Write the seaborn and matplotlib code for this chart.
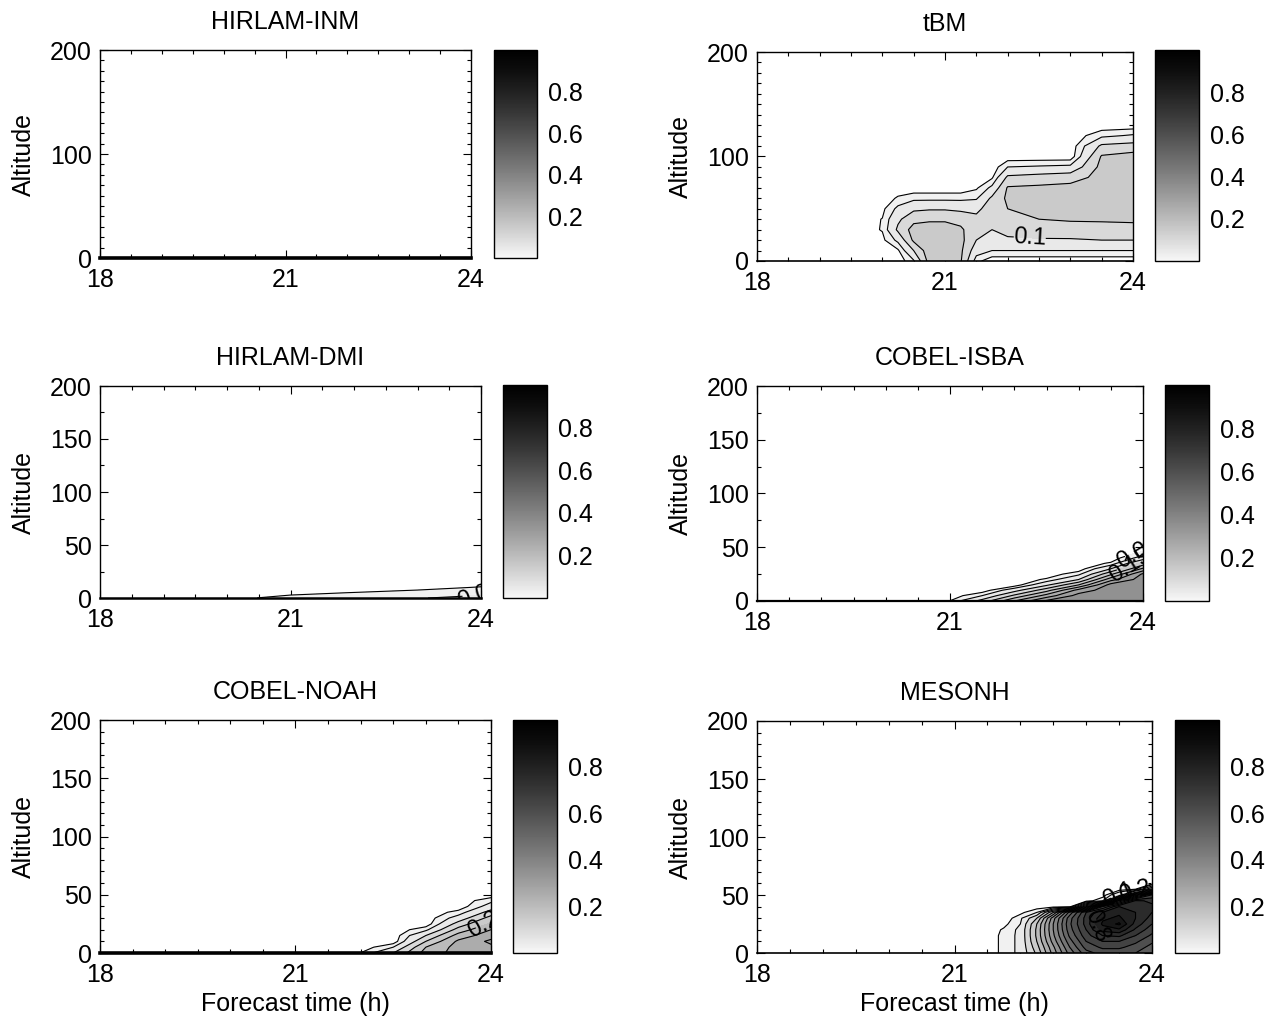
import numpy as np
import matplotlib
matplotlib.use("Agg")
import matplotlib.pyplot as plt
from matplotlib.colors import LinearSegmentedColormap, Normalize
from matplotlib.cm import ScalarMappable
from matplotlib.ticker import MultipleLocator
import seaborn as sns

# ---------------- data ----------------
titles = ["HIRLAM-INM", "tBM", "HIRLAM-DMI", "COBEL-ISBA", "COBEL-NOAH", "MESONH"]
y_label = "Altitude"
x_label = "Forecast time (h)"
x_ticks = [18, 21, 24]
cbar_ticks = [0.2, 0.4, 0.6, 0.8]
contour_levels = [0.02, 0.05, 0.10, 0.15, 0.20, 0.25, 0.30, 0.35, 0.40, 0.45,
                  0.50, 0.55, 0.60, 0.65, 0.70, 0.75, 0.80, 0.85, 0.90, 0.95]

# HIRLAM-INM: no fog anywhere
inm_time = [18, 24]
inm_alt = [0, 200]
inm_prob = [[0, 0],
            [0, 0]]

# tBM (rows = altitude, columns = forecast time)
tbm_time = [19.5, 20, 20.25, 20.5, 20.75, 21, 21.25, 21.5, 21.75, 22, 22.5, 23, 23.5, 24]
tbm_alt = [0, 10, 20, 30, 40, 50, 60, 70, 80, 90, 100, 110, 120, 130, 140]
tbm_prob = [
    [0, 0,     0,     0.045, 0.17,  0.18,  0.155, 0.03,  0,     0,     0,     0,     0,     0],
    [0, 0,     0.015, 0.10,  0.18,  0.19,  0.16,  0.07,  0.05,  0.05,  0.05,  0.05,  0.05,  0.05],
    [0, 0.012, 0.06,  0.16,  0.18,  0.19,  0.165, 0.10,  0.09,  0.09,  0.095, 0.095, 0.10,  0.10],
    [0, 0.022, 0.11,  0.17,  0.18,  0.18,  0.16,  0.11,  0.10,  0.12,  0.125, 0.13,  0.135, 0.14],
    [0, 0.021, 0.09,  0.135, 0.14,  0.14,  0.13,  0.11,  0.11,  0.14,  0.15,  0.155, 0.155, 0.155],
    [0, 0.012, 0.06,  0.09,  0.095, 0.095, 0.09,  0.09,  0.12,  0.15,  0.16,  0.165, 0.165, 0.165],
    [0, 0,     0.025, 0.04,  0.04,  0.04,  0.04,  0.045, 0.11,  0.16,  0.165, 0.17,  0.17,  0.17],
    [0, 0,     0,     0,     0,     0,     0,     0.015, 0.06,  0.155, 0.16,  0.165, 0.17,  0.17],
    [0, 0,     0,     0,     0,     0,     0,     0,     0.015, 0.11,  0.12,  0.13,  0.165, 0.17],
    [0, 0,     0,     0,     0,     0,     0,     0,     0,     0.05,  0.055, 0.06,  0.165, 0.17],
    [0, 0,     0,     0,     0,     0,     0,     0,     0,     0,     0,     0,     0.155, 0.17],
    [0, 0,     0,     0,     0,     0,     0,     0,     0,     0,     0,     0,     0.11,  0.12],
    [0, 0,     0,     0,     0,     0,     0,     0,     0,     0,     0,     0,     0.04,  0.055],
    [0, 0,     0,     0,     0,     0,     0,     0,     0,     0,     0,     0,     0,     0],
    [0, 0,     0,     0,     0,     0,     0,     0,     0,     0,     0,     0,     0,     0],
]

# HIRLAM-DMI
dmi_time = [20, 20.5, 21, 22, 23, 24]
dmi_alt = [0, 5, 10, 15, 20]
dmi_prob = [
    [0, 0.021, 0.03,  0.035, 0.048, 0.06],
    [0, 0,     0.012, 0.021, 0.03,  0.04],
    [0, 0,     0,     0,     0.01,  0.022],
    [0, 0,     0,     0,     0,     0.005],
    [0, 0,     0,     0,     0,     0],
]

# COBEL-ISBA
isba_time = [20.5, 21, 21.5, 22, 22.5, 23, 23.5, 24]
isba_alt = [0, 5, 10, 15, 20, 25, 30, 35, 40, 45, 50, 55]
isba_prob = [
    [0, 0.021, 0.12, 0.25, 0.36,  0.38, 0.38,  0.38],
    [0, 0,     0.05, 0.16, 0.27,  0.37, 0.38,  0.38],
    [0, 0,     0,    0.08, 0.18,  0.32, 0.38,  0.38],
    [0, 0,     0,    0,    0.09,  0.20, 0.37,  0.38],
    [0, 0,     0,    0,    0.025, 0.10, 0.28,  0.38],
    [0, 0,     0,    0,    0,     0.04, 0.19,  0.36],
    [0, 0,     0,    0,    0,     0,    0.10,  0.26],
    [0, 0,     0,    0,    0,     0,    0.025, 0.17],
    [0, 0,     0,    0,    0,     0,    0,     0.07],
    [0, 0,     0,    0,    0,     0,    0,     0.025],
    [0, 0,     0,    0,    0,     0,    0,     0],
    [0, 0,     0,    0,    0,     0,    0,     0],
]

# COBEL-NOAH
noah_time = [21.5, 22, 22.5, 23, 23.5, 24]
noah_alt = [0, 5, 10, 15, 20, 25, 30, 35, 40, 45, 50, 55]
noah_prob = [
    [0, 0.021, 0.10, 0.22, 0.27, 0.28],
    [0, 0,     0.05, 0.20, 0.27, 0.29],
    [0, 0,     0,    0.15, 0.26, 0.31],
    [0, 0,     0,    0.10, 0.22, 0.28],
    [0, 0,     0,    0.04, 0.17, 0.25],
    [0, 0,     0,    0,    0.12, 0.21],
    [0, 0,     0,    0,    0.07, 0.17],
    [0, 0,     0,    0,    0.03, 0.12],
    [0, 0,     0,    0,    0,    0.07],
    [0, 0,     0,    0,    0,    0.04],
    [0, 0,     0,    0,    0,    0],
    [0, 0,     0,    0,    0,    0],
]

# MESONH
meso_time = [21.5, 21.75, 22, 22.25, 22.5, 22.75, 23, 23.25, 23.5, 23.75, 24]
meso_alt = [0, 5, 10, 15, 20, 25, 30, 35, 40, 45, 50, 55, 60, 65]
meso_prob = [
    [0, 0.03,  0.06, 0.16, 0.32, 0.47, 0.58, 0.62, 0.62, 0.60, 0.55],
    [0, 0.03,  0.06, 0.18, 0.34, 0.50, 0.62, 0.66, 0.66, 0.63, 0.58],
    [0, 0.03,  0.06, 0.20, 0.37, 0.53, 0.65, 0.70, 0.70, 0.66, 0.61],
    [0, 0.03,  0.06, 0.21, 0.39, 0.56, 0.68, 0.75, 0.76, 0.70, 0.64],
    [0, 0.025, 0.06, 0.21, 0.40, 0.58, 0.70, 0.82, 0.84, 0.74, 0.67],
    [0, 0.01,  0.05, 0.20, 0.40, 0.59, 0.72, 0.86, 0.91, 0.78, 0.70],
    [0, 0,     0.04, 0.15, 0.38, 0.58, 0.72, 0.84, 0.86, 0.80, 0.73],
    [0, 0,     0.01, 0.05, 0.25, 0.52, 0.70, 0.80, 0.84, 0.80, 0.75],
    [0, 0,     0,    0,    0,    0,    0.30, 0.65, 0.80, 0.80, 0.76],
    [0, 0,     0,    0,    0,    0,    0,    0.05, 0.55, 0.76, 0.74],
    [0, 0,     0,    0,    0,    0,    0,    0,    0.10, 0.45, 0.66],
    [0, 0,     0,    0,    0,    0,    0,    0,    0,    0.02, 0.22],
    [0, 0,     0,    0,    0,    0,    0,    0,    0,    0,    0],
    [0, 0,     0,    0,    0,    0,    0,    0,    0,    0,    0],
]

# ---------------- style ----------------
sns.set_theme(style="ticks", rc={
    "axes.edgecolor": "black", "xtick.color": "black", "ytick.color": "black",
    "text.color": "black", "axes.labelcolor": "black",
})
plt.rcParams["font.family"] = ["Liberation Sans", "DejaVu Sans"]
plt.rcParams["axes.unicode_minus"] = False

cmap_pos = [0.0, 0.1, 0.2, 0.3, 0.4, 0.5, 0.6, 0.7, 0.8, 0.9, 1.0]
cmap = LinearSegmentedColormap.from_list(
    "fog", [(p, str(round(0.97 * (1 - p) ** 1.25, 4))) for p in cmap_pos])
norm = Normalize(0, 1)

W, H = 1271, 1021
fig = plt.figure(figsize=(W / 100, H / 100), dpi=100)


def px(l, r, t, b):
    return [l / W, 1 - b / H, (r - l) / W, (b - t) / H]


def panel(ax_box, cb_box, time, alt, prob, title, yticks, yminor,
          show_xlabel=False, label_pts=None, bottom_lw=1.2):
    ax = fig.add_axes(px(*ax_box))
    cax = fig.add_axes(px(*cb_box))
    P = np.asarray(prob, dtype=float)
    if P.max() >= contour_levels[0]:
        lv = [l for l in contour_levels if l <= P.max()]
        bounds = lv + [1.0]
        cols = [cmap(norm(l)) for l in lv]
        ax.contourf(time, alt, P, levels=bounds, colors=cols)
        cs = ax.contour(time, alt, P, levels=lv, colors="black", linewidths=0.8)
        if label_pts:
            txts = ax.clabel(cs, fmt="%g", fontsize=17, inline=True, manual=label_pts)
            for t in txts:
                t.set_clip_on(True)
    ax.set_xlim(18, 24)
    ax.set_ylim(0, 200)
    ax.set_xticks(x_ticks)
    ax.set_yticks(yticks)
    ax.xaxis.set_minor_locator(MultipleLocator(0.5))
    ax.yaxis.set_minor_locator(MultipleLocator(yminor))
    ax.tick_params(which="both", direction="in", top=True, right=True,
                   labelsize=18, width=0.8, pad=6)
    ax.tick_params(axis="x", which="both", pad=7)
    ax.tick_params(which="major", length=6)
    ax.tick_params(which="minor", length=3)
    for s in ax.spines.values():
        s.set_linewidth(1.0)
        s.set_color("black")
    ax.spines["bottom"].set_linewidth(bottom_lw)
    ax.set_title(title, fontsize=18, pad=15)
    ax.set_ylabel(y_label, fontsize=18, labelpad=10)
    if show_xlabel:
        ax.set_xlabel(x_label, fontsize=18, labelpad=4)
    cb = fig.colorbar(ScalarMappable(norm=norm, cmap=cmap), cax=cax, ticks=cbar_ticks)
    cax.tick_params(direction="in", length=4, width=0.8, left=True, right=True,
                    labelleft=False, labelright=True, labelsize=18, pad=8, colors="black")
    cb.outline.set_linewidth(1.0)
    cb.outline.set_edgecolor("black")
    return ax


panel((100, 471, 50, 258), (494, 537, 50, 258), inm_time, inm_alt, inm_prob,
      titles[0], [0, 100, 200], 10, bottom_lw=2.6)
panel((757, 1133, 52, 261), (1155, 1199, 50, 261), tbm_time, tbm_alt, tbm_prob,
      titles[1], [0, 100, 200], 10, label_pts=[(22.35, 20)])
panel((100, 481, 386, 598), (503, 547, 385, 598), dmi_time, dmi_alt, dmi_prob,
      titles[2], [0, 50, 100, 150, 200], 25, label_pts=[(23.93, 4)], bottom_lw=1.8)
panel((757, 1143, 386, 601), (1165, 1209, 385, 601), isba_time, isba_alt, isba_prob,
      titles[3], [0, 50, 100, 150, 200], 25,
      label_pts=[(23.8, 33), (23.95, 44)], bottom_lw=1.6)
panel((100, 491, 720, 953), (513, 557, 720, 953), noah_time, noah_alt, noah_prob,
      titles[4], [0, 50, 100, 150, 200], 10, show_xlabel=True,
      label_pts=[(23.9, 23)], bottom_lw=2.6)
panel((757, 1152, 721, 953), (1175, 1219, 720, 953), meso_time, meso_alt, meso_prob,
      titles[5], [0, 50, 100, 150, 200], 10, show_xlabel=True,
      label_pts=[(23.2, 24), (23.5, 50), (23.75, 53)])

fig.savefig("out.png", dpi=100)
